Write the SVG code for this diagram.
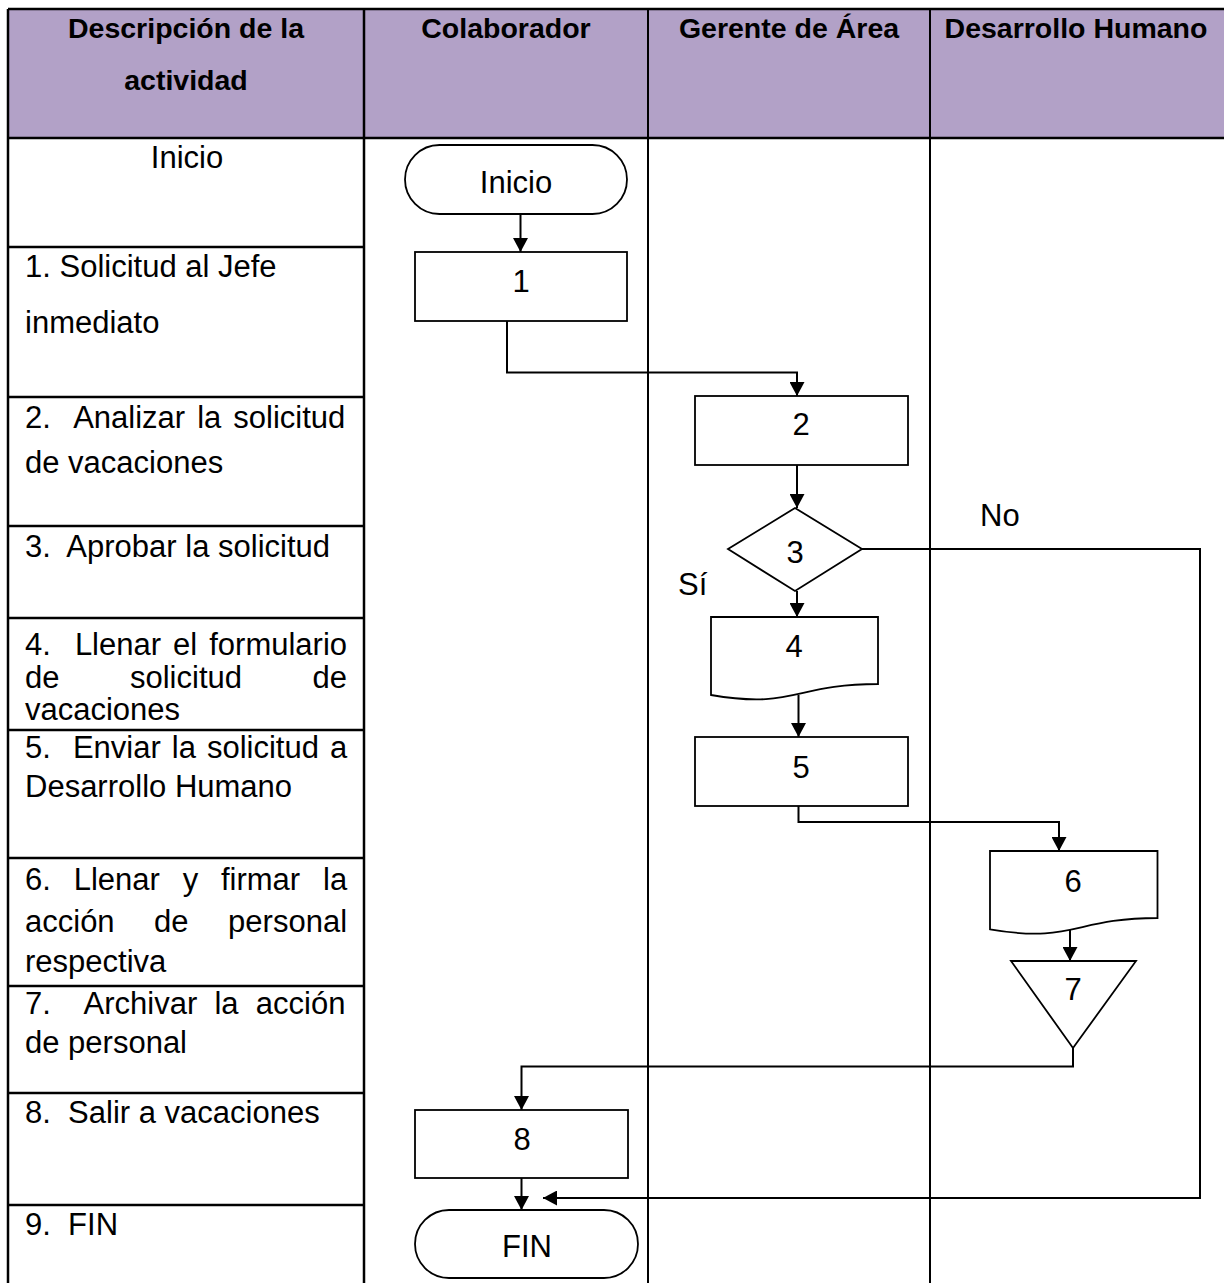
<svg xmlns="http://www.w3.org/2000/svg" width="1224" height="1283" viewBox="0 0 1224 1283">
<defs>
<marker id="ah" viewBox="0 0 14 15" refX="14" refY="7.5" markerWidth="14" markerHeight="15" markerUnits="userSpaceOnUse" orient="auto"><path d="M0,0 L14,7.5 L0,15 Z" fill="#000"/></marker>
<style>
.grid{stroke:#000;stroke-width:2.5;fill:none}
.gridt{stroke:#000;stroke-width:2;fill:none}
.hd{font-family:"Liberation Sans",Arial,sans-serif;font-weight:bold;font-size:28.5px;text-anchor:middle;fill:#000}
.tx{font-family:"Liberation Sans",Arial,sans-serif;font-size:31px;fill:#000}
.shape{fill:#fff;stroke:#000;stroke-width:1.8}
.lbl{font-family:"Liberation Sans",Arial,sans-serif;font-size:31px;text-anchor:middle;fill:#000}
.conn{fill:none;stroke:#000;stroke-width:2;marker-end:url(#ah)}
</style>
</defs>
<g id="table">
<rect x="8" y="9" width="1220" height="129" fill="#B2A1C7"/>
<path class="grid" d="M8,9 H1228 M8,138 H1228 M8,9 V1290 M364,9 V1290"/>
<path class="gridt" d="M648,9 V1290 M930,9 V1290"/>
<path class="grid" d="M8,247 H364 M8,397 H364 M8,526 H364 M8,618 H364 M8,730 H364 M8,858 H364 M8,986 H364 M8,1093 H364 M8,1205 H364"/>
<text class="hd" x="186" y="38">Descripción de la</text>
<text class="hd" x="186" y="90">actividad</text>
<text class="hd" x="506" y="38">Colaborador</text>
<text class="hd" x="789" y="38">Gerente de Área</text>
<text class="hd" x="1076" y="38">Desarrollo Humano</text>
</g>
<g id="descriptions">
<text class="tx" x="187" y="168" text-anchor="middle">Inicio</text>
<text class="tx" x="25" y="277">1. Solicitud al Jefe</text>
<text class="tx" x="25" y="333">inmediato</text>
<text class="tx" x="25" y="428" xml:space="preserve" word-spacing="3.4">2.  Analizar la solicitud</text>
<text class="tx" x="25" y="473">de vacaciones</text>
<text class="tx" x="25" y="557" xml:space="preserve">3.  Aprobar la solicitud</text>
<text class="tx" x="25" y="655" xml:space="preserve" word-spacing="3.4">4.  Llenar el formulario</text>
<text class="tx" x="25" y="688" word-spacing="61.9">de solicitud de</text>
<text class="tx" x="25" y="720">vacaciones</text>
<text class="tx" x="25" y="758" xml:space="preserve" word-spacing="2.4">5.  Enviar la solicitud a</text>
<text class="tx" x="25" y="797">Desarrollo Humano</text>
<text class="tx" x="25" y="890" word-spacing="14.2">6. Llenar y firmar la</text>
<text class="tx" x="25" y="932" word-spacing="30.9">acción de personal</text>
<text class="tx" x="25" y="972">respectiva</text>
<text class="tx" x="25" y="1014" xml:space="preserve" word-spacing="8.6">7.  Archivar la acción</text>
<text class="tx" x="25" y="1053">de personal</text>
<text class="tx" x="25" y="1123" xml:space="preserve">8.  Salir a vacaciones</text>
<text class="tx" x="25" y="1235" xml:space="preserve">9.  FIN</text>
</g>
<g id="connectors">
<path class="conn" d="M520.5,214 V252"/>
<path class="conn" d="M507,321 V372.5 H797 V396"/>
<path class="conn" d="M797,465 V508"/>
<path class="conn" d="M797,591 V617"/>
<path class="conn" d="M798.5,695 V737"/>
<path class="conn" d="M798.5,806 V822 H1059 V851"/>
<path class="conn" d="M1070,929 V961"/>
<path class="conn" d="M1073,1048 V1066.5 H521.5 V1110"/>
<path class="conn" d="M521.5,1178 V1210"/>
<path class="conn" d="M862,549 H1200 V1198 H543"/>
<text class="tx" x="678" y="595">Sí</text>
<text class="tx" x="980" y="526">No</text>
</g>
<g id="start">
<rect class="shape" x="405" y="145" width="222" height="69" rx="34.5"/>
<text class="lbl" x="516" y="192.5">Inicio</text>
</g>
<g id="n1">
<rect class="shape" x="415" y="252" width="212" height="69"/>
<text class="lbl" x="521" y="291.5">1</text>
</g>
<g id="n2">
<rect class="shape" x="695" y="396" width="213" height="69"/>
<text class="lbl" x="801" y="435">2</text>
</g>
<g id="n3">
<polygon class="shape" points="795,508 862,549 795,591 728,549"/>
<text class="lbl" x="795" y="563">3</text>
</g>
<g id="n4">
<path class="shape" d="M711,617 H878 V684 C794.5,684 794.5,709.4 711,695 Z"/>
<text class="lbl" x="794" y="657">4</text>
</g>
<g id="n5">
<rect class="shape" x="695" y="737" width="213" height="69"/>
<text class="lbl" x="801" y="778">5</text>
</g>
<g id="n6">
<path class="shape" d="M990,851 H1157.5 V918 C1073.75,918 1073.75,943.8 990,929.3 Z"/>
<text class="lbl" x="1073" y="892">6</text>
</g>
<g id="n7">
<polygon class="shape" points="1011,961 1136,961 1073,1048"/>
<text class="lbl" x="1073" y="1000">7</text>
</g>
<g id="n8">
<rect class="shape" x="415" y="1110" width="213" height="68"/>
<text class="lbl" x="522" y="1150">8</text>
</g>
<g id="end">
<rect class="shape" x="415" y="1210" width="223" height="68" rx="34"/>
<text class="lbl" x="527" y="1257">FIN</text>
</g>
</svg>
